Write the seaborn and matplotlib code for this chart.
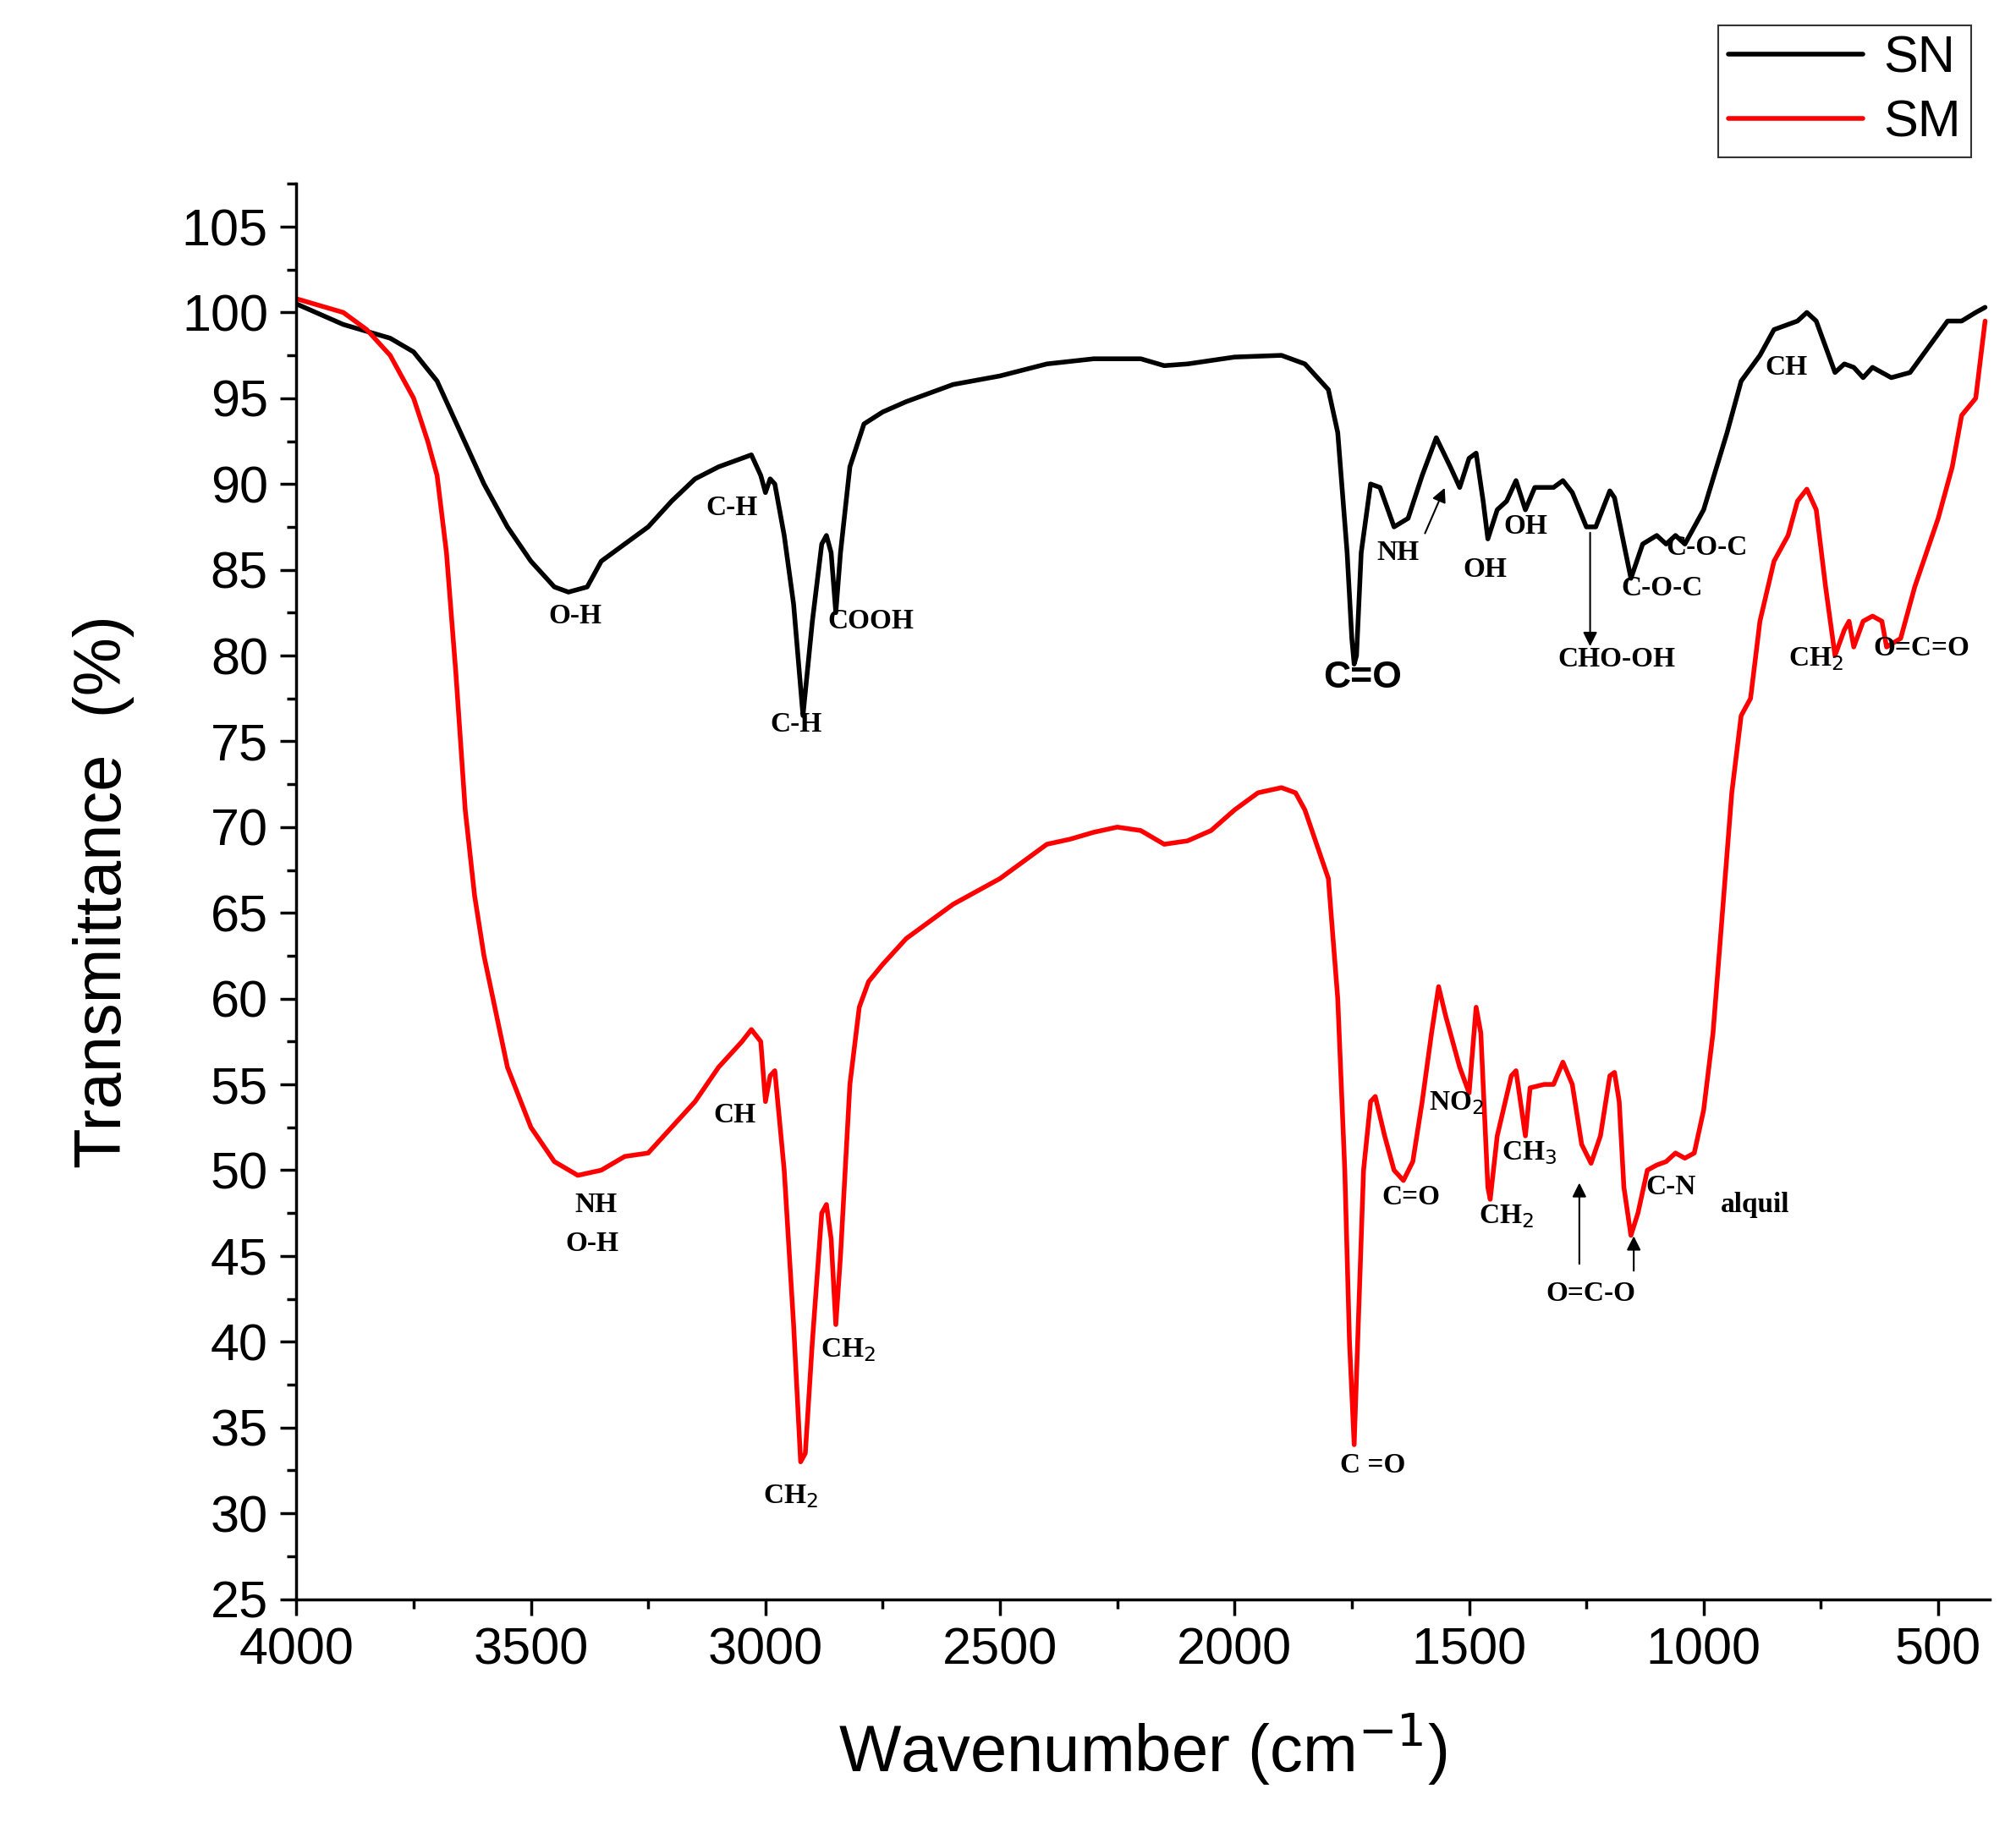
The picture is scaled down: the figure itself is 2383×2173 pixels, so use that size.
import numpy as np
import pandas as pd
import seaborn as sns
import matplotlib
matplotlib.use("Agg")
import matplotlib.pyplot as plt
from matplotlib.ticker import MultipleLocator

# FTIR spectra (wavenumber, transmittance %)
sn_wn = [4000, 3900, 3800, 3750, 3700, 3650, 3600, 3550, 3500, 3450, 3420, 3380, 3350, 3300, 3250,
         3200, 3150, 3100, 3050, 3030, 3010, 3000, 2990, 2980, 2960, 2940, 2920, 2900, 2880, 2870,
         2860, 2850, 2840, 2820, 2790, 2750, 2700, 2600, 2500, 2400, 2300, 2200, 2150, 2100, 2000,
         1900, 1850, 1800, 1780, 1760, 1750, 1745, 1740, 1730, 1710, 1690, 1660, 1630, 1600, 1570,
         1540, 1520, 1500, 1485, 1470, 1460, 1440, 1420, 1400, 1380, 1360, 1320, 1300, 1280, 1250,
         1230, 1200, 1190, 1170, 1155, 1130, 1100, 1080, 1060, 1040, 1000, 950, 920, 880, 850,
         800, 780, 760, 740, 720, 700, 680, 660, 640, 620, 600, 560, 520, 480, 450, 420, 400]
sn_t = [100.5, 99.3, 98.5, 97.7, 96, 93, 90, 87.5, 85.5, 84, 83.7, 84, 85.5, 86.5, 87.5,
        89, 90.3, 91, 91.5, 91.7, 90.5, 89.5, 90.3, 90, 87, 83, 76.5, 82, 86.5, 87,
        86, 82.5, 86, 91, 93.5, 94.2, 94.8, 95.8, 96.3, 97, 97.3, 97.3, 96.9, 97, 97.4,
        97.5, 97, 95.5, 93, 86, 81, 79.5, 80, 86, 90, 89.8, 87.5, 88, 90.5, 92.7,
        91, 89.8, 91.5, 91.8, 89, 86.8, 88.5, 89, 90.2, 88.5, 89.8, 89.8, 90.2, 89.5, 87.5,
        87.5, 89.6, 89.2, 86.5, 84.5, 86.5, 87, 86.5, 87, 86.5, 88.5, 93, 96, 97.5, 99,
        99.5, 100, 99.5, 98, 96.5, 97, 96.8, 96.2, 96.8, 96.5, 96.2, 96.5, 98, 99.5, 99.5, 100, 100.3]

sm_wn = [4000, 3900, 3850, 3800, 3750, 3720, 3700, 3680, 3660, 3640, 3620, 3600, 3550, 3500, 3450,
         3400, 3350, 3300, 3250, 3200, 3150, 3100, 3050, 3030, 3010, 3000, 2990, 2980, 2960, 2940,
         2925, 2915, 2900, 2880, 2870, 2860, 2850, 2840, 2820, 2800, 2780, 2750, 2700, 2600, 2500,
         2400, 2350, 2300, 2250, 2200, 2150, 2100, 2050, 2000, 1950, 1900, 1870, 1850, 1800, 1780,
         1765, 1755, 1745, 1735, 1725, 1710, 1700, 1680, 1660, 1640, 1620, 1600, 1580, 1565, 1550,
         1520, 1500, 1485, 1475, 1460, 1455, 1440, 1410, 1400, 1380, 1370, 1340, 1320, 1300, 1280,
         1260, 1240, 1220, 1200, 1190, 1180, 1170, 1155, 1140, 1120, 1100, 1080, 1060, 1040, 1020,
         1000, 980, 960, 940, 920, 900, 880, 850, 820, 800, 780, 760, 740, 720, 700,
         690, 680, 660, 640, 620, 610, 580, 550, 500, 470, 450, 420, 400]
sm_t = [100.8, 100, 99, 97.5, 95, 92.5, 90.5, 86, 79, 71, 66, 62.5, 56, 52.5, 50.5,
        49.7, 50, 50.8, 51, 52.5, 54, 56, 57.5, 58.2, 57.5, 54, 55.5, 55.8, 50, 41,
        33, 33.5, 40, 47.5, 48, 46, 41, 45, 55, 59.5, 61, 62, 63.5, 65.5, 67,
        69, 69.3, 69.7, 70, 69.8, 69, 69.2, 69.8, 71, 72, 72.3, 72, 71, 67, 60,
        50, 40, 34, 42, 50, 54, 54.3, 52, 50, 49.4, 50.5, 54, 58, 60.7, 59,
        56, 54.5, 59.5, 58, 49, 48.3, 52, 55.5, 55.8, 52, 54.8, 55, 55, 56.3, 55,
        51.5, 50.4, 52, 55.5, 55.7, 54, 49, 46.2, 47.5, 50, 50.3, 50.5, 51, 50.7, 51,
        53.5, 58, 65, 72, 76.5, 77.5, 82, 85.5, 87, 89, 89.7, 88.5, 84, 80, 81.5,
        82, 80.5, 82, 82.3, 82, 80.5, 81, 84, 88, 91, 94, 95, 99.5]

df = pd.concat([
    pd.DataFrame({"wn": sn_wn, "T": sn_t, "sample": "SN"}),
    pd.DataFrame({"wn": sm_wn, "T": sm_t, "sample": "SM"}),
])

sns.set_style("ticks", {"axes.edgecolor": "black", "xtick.color": "black",
                        "ytick.color": "black", "text.color": "black", "axes.labelcolor": "black"})
fig = plt.figure(figsize=(23.83, 21.73), dpi=100)
ax = fig.add_axes([0.147, 0.130, 0.840, 0.770])
sns.lineplot(data=df, x="wn", y="T", hue="sample", palette={"SN": "black", "SM": "#ff0000"},
             linewidth=4, sort=False, estimator=None, ax=ax, legend=False)

ax.set_xlim(4000, 390)
ax.set_ylim(25, 107.5)
ax.xaxis.set_major_locator(MultipleLocator(500))
ax.xaxis.set_minor_locator(MultipleLocator(250))
ax.yaxis.set_major_locator(MultipleLocator(5))
ax.yaxis.set_minor_locator(MultipleLocator(2.5))
ax.tick_params(which="major", length=14, width=2.5, labelsize=44, pad=10, colors="black")
ax.tick_params(which="minor", length=8, width=2.5, colors="black")
for lab in ax.get_xticklabels() + ax.get_yticklabels():
    lab.set_family("Liberation Sans")
sns.despine(ax=ax)
for s in ["left", "bottom"]:
    ax.spines[s].set_linewidth(2.5)
ax.set_xlabel("Wavenumber (cm$^{-1}$)", fontsize=56, family="Liberation Sans", labelpad=30)
ax.set_ylabel("Transmittance  (%)", fontsize=56, family="Liberation Sans", labelpad=40)

ser = dict(family="Liberation Serif", fontweight="bold", fontsize=24, ha="center", va="center",
           color="black")
labels = [
    ("O-H", 3405, 82.3), ("C-H", 3071, 88.6), ("C-H", 2934, 76), ("COOH", 2775, 82),
    ("NH", 1651, 86), ("OH", 1467, 85), ("OH", 1379, 87.5), ("CHO-OH", 1185, 79.8),
    ("C-O-C", 1089, 83.9), ("C-O-C", 993, 86.3), ("CH", 823, 96.8),
    ("CH$_2$", 760, 79.8), ("O=C=O", 535, 80.4),
    ("CH", 3065, 53.2), ("NH", 3361, 48), ("O-H", 3370, 45.7), ("CH$_2$", 2947, 31),
    ("CH$_2$", 2824, 39.5), ("C =O", 1706, 32.8), ("C=O", 1623, 48.4), ("NO$_2$", 1527, 53.9),
    ("CH$_3$", 1371, 51), ("CH$_2$", 1420, 47.3), ("O=C-O", 1240, 42.8),
    ("C-N", 1069, 49), ("alquil", 891, 48),
]
for txt, x, y in labels:
    ax.text(x, y, txt, **ser)
ax.text(1727, 78.7, "C=O", family="Liberation Sans", fontweight="bold", fontsize=32,
        ha="center", va="center", color="black")

arr = dict(arrowstyle="-|>", color="black", lw=1.5, mutation_scale=25)
ax.annotate("", xy=(1550, 89.9), xytext=(1596, 87), arrowprops=arr)
ax.annotate("", xy=(1242, 80.4), xytext=(1242, 87.3), arrowprops=arr)
ax.annotate("", xy=(1265, 49.4), xytext=(1265, 44.4), arrowprops=arr)
ax.annotate("", xy=(1149, 46.3), xytext=(1149, 44), arrowprops=arr)

h1, = ax.plot([], [], color="black", lw=4, label="SN")
h2, = ax.plot([], [], color="#ff0000", lw=4, label="SM")
leg = fig.legend(handles=[h1, h2], loc="upper right", bbox_to_anchor=(0.983, 0.992),
                 prop={"family": "Liberation Sans", "size": 44}, frameon=True, fancybox=False,
                 edgecolor="black", handlelength=2.6, handletextpad=0.4, borderpad=0.2,
                 labelspacing=0.3, borderaxespad=0.2)
leg.get_frame().set_linewidth(1.5)

fig.savefig("out.png", dpi=100)
